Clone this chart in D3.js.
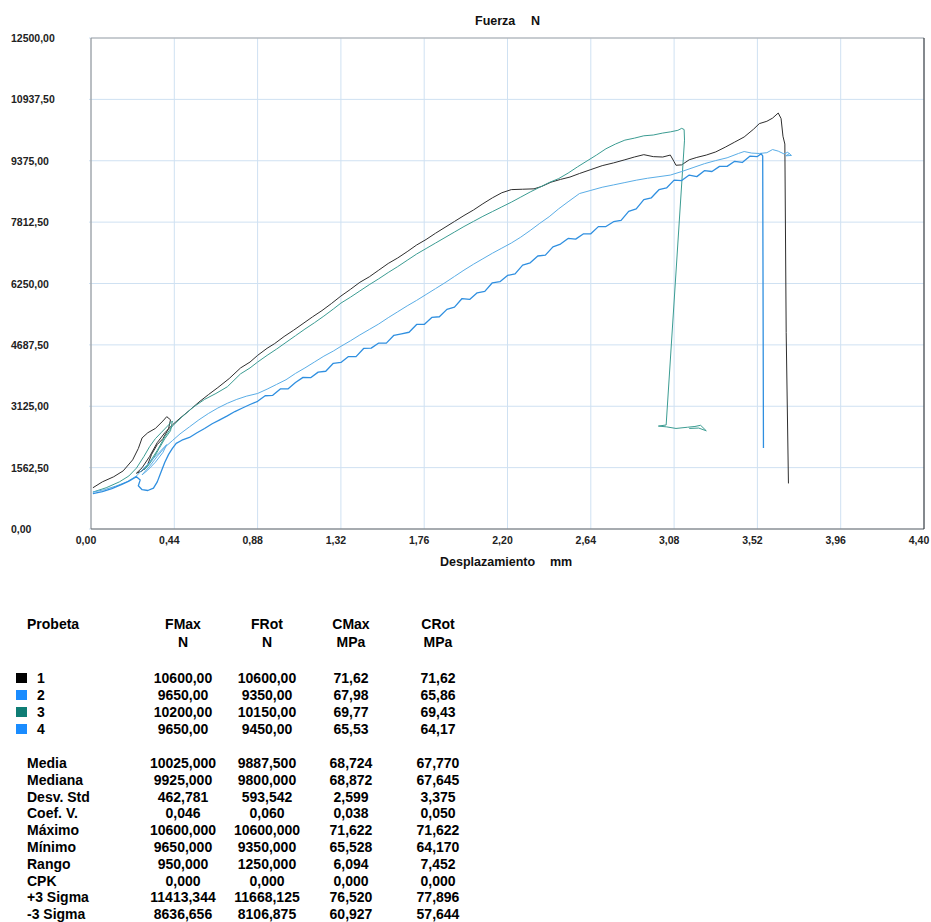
<!DOCTYPE html>
<html>
<head>
<meta charset="utf-8">
<script src="https://cdn.jsdelivr.net/npm/d3@7"></script>
<style>
  body { margin: 0; background: #fff; }
  svg { display: block; font-family: "Liberation Sans", Arial, sans-serif; font-weight: bold; }
</style>
</head>
<body>
<div id="chart"></div>
<script>
/* ============================================
   ENSAYO DE TRACCION - FUERZA vs DESPLAZAMIENTO
   ============================================ */

// Axis ticks
const xTicks = [0, 0.44, 0.88, 1.32, 1.76, 2.20, 2.64, 3.08, 3.52, 3.96, 4.40];
const yTicks = [0, 1562.5, 3125, 4687.5, 6250, 7812.5, 9375, 10937.5, 12500];

// Probeta 1 (black)
const probeta1 = [
  [0.01, 1050], [0.06, 1200], [0.12, 1330], [0.17, 1480], [0.22, 1760], [0.25, 2050], [0.27, 2320],
  [0.30, 2450], [0.34, 2560], [0.38, 2750], [0.40, 2860], [0.42, 2780], [0.41, 2560], [0.38, 2300],
  [0.35, 2150], [0.32, 1900], [0.30, 1650], [0.27, 1480], [0.24, 1420], [0.27, 1560], [0.31, 1850],
  [0.35, 2200], [0.39, 2450], [0.43, 2650], [0.47, 2820], [0.52, 3020], [0.57, 3230], [0.62, 3420],
  [0.67, 3600], [0.73, 3830], [0.79, 4100], [0.84, 4250], [0.88, 4420], [0.93, 4600], [0.97, 4720],
  [1.02, 4900], [1.07, 5060], [1.12, 5230], [1.17, 5400], [1.22, 5560], [1.27, 5740], [1.32, 5930],
  [1.37, 6100], [1.42, 6280], [1.47, 6420], [1.52, 6590], [1.57, 6760], [1.62, 6900], [1.67, 7060],
  [1.72, 7230], [1.77, 7370], [1.82, 7530], [1.87, 7680], [1.92, 7830], [1.97, 7980], [2.02, 8120],
  [2.07, 8280], [2.12, 8430], [2.17, 8560], [2.22, 8640], [2.28, 8650], [2.34, 8660], [2.38, 8720],
  [2.43, 8830], [2.48, 8900], [2.53, 8960], [2.58, 9050], [2.64, 9150], [2.70, 9250], [2.76, 9320],
  [2.82, 9400], [2.87, 9470], [2.92, 9530], [2.97, 9480], [3.02, 9470], [3.06, 9520], [3.08, 9350],
  [3.09, 9260], [3.12, 9270], [3.16, 9400], [3.20, 9460], [3.25, 9520], [3.30, 9600], [3.35, 9720],
  [3.40, 9850], [3.45, 9980], [3.50, 10180], [3.53, 10320], [3.57, 10380], [3.60, 10460], [3.63, 10590],
  [3.645, 10450], [3.655, 10000], [3.665, 9800], [3.672, 5000], [3.684, 1160]
];

// Probeta 2 (light blue)
const probeta2 = [
  [0.01, 940], [0.07, 1000], [0.13, 1090], [0.19, 1200], [0.24, 1350], [0.28, 1550], [0.32, 1750],
  [0.36, 1950], [0.40, 2150], [0.38, 1950], [0.34, 1700], [0.30, 1500], [0.27, 1380], [0.31, 1600],
  [0.35, 1850], [0.39, 2080], [0.43, 2250], [0.47, 2420], [0.52, 2600], [0.57, 2780], [0.62, 2940],
  [0.67, 3080], [0.72, 3200], [0.77, 3300], [0.82, 3380], [0.88, 3450], [0.93, 3560], [0.98, 3680],
  [1.03, 3800], [1.08, 3960], [1.13, 4100], [1.18, 4250], [1.23, 4400], [1.28, 4530], [1.32, 4650],
  [1.37, 4790], [1.42, 4940], [1.47, 5080], [1.52, 5220], [1.57, 5380], [1.62, 5530], [1.67, 5680],
  [1.72, 5820], [1.77, 5970], [1.82, 6120], [1.87, 6270], [1.92, 6430], [1.97, 6590], [2.02, 6740],
  [2.07, 6880], [2.12, 7020], [2.17, 7150], [2.22, 7280], [2.27, 7430], [2.32, 7600], [2.37, 7780],
  [2.42, 7950], [2.47, 8150], [2.52, 8330], [2.58, 8540], [2.64, 8620], [2.70, 8700], [2.76, 8760],
  [2.82, 8820], [2.88, 8880], [2.94, 8930], [3.00, 8970], [3.06, 9010], [3.12, 9100], [3.18, 9200],
  [3.24, 9300], [3.30, 9380], [3.36, 9450], [3.42, 9560], [3.45, 9610], [3.49, 9570], [3.53, 9560],
  [3.57, 9580], [3.60, 9660], [3.63, 9620], [3.66, 9550], [3.68, 9590], [3.70, 9510], [3.67, 9500],
  [3.69, 9560]
];

// Probeta 3 (teal)
const probeta3 = [
  [0.01, 940], [0.08, 1050], [0.15, 1200], [0.20, 1350], [0.24, 1550], [0.28, 1850], [0.31, 2100],
  [0.34, 2300], [0.37, 2450], [0.40, 2600], [0.43, 2750], [0.42, 2500], [0.39, 2300], [0.36, 2050],
  [0.33, 1800], [0.30, 1600], [0.28, 1500], [0.31, 1700], [0.35, 2000], [0.39, 2350], [0.43, 2620],
  [0.48, 2850], [0.54, 3100], [0.60, 3300], [0.66, 3450], [0.72, 3620], [0.79, 3950], [0.84, 4100],
  [0.88, 4250], [0.93, 4420], [0.98, 4580], [1.03, 4750], [1.08, 4920], [1.13, 5090], [1.18, 5250],
  [1.23, 5420], [1.28, 5600], [1.32, 5750], [1.37, 5900], [1.42, 6060], [1.47, 6220], [1.52, 6370],
  [1.57, 6530], [1.62, 6680], [1.67, 6840], [1.72, 7000], [1.77, 7140], [1.82, 7280], [1.87, 7420],
  [1.92, 7560], [1.97, 7700], [2.02, 7830], [2.07, 7960], [2.12, 8080], [2.17, 8200], [2.22, 8320],
  [2.27, 8450], [2.32, 8580], [2.37, 8700], [2.42, 8820], [2.47, 8920], [2.52, 9060], [2.57, 9220],
  [2.62, 9370], [2.67, 9520], [2.72, 9680], [2.77, 9800], [2.82, 9900], [2.87, 9950], [2.92, 10010],
  [2.97, 10030], [3.02, 10080], [3.06, 10110], [3.10, 10150], [3.12, 10200], [3.133, 10170],
  [3.135, 9900], [3.038, 2648], [2.997, 2620], [3.04, 2600], [3.09, 2560], [3.15, 2590], [3.19, 2610],
  [3.22, 2640], [3.25, 2500], [3.21, 2570], [3.16, 2560]
];

// Probeta 4 (blue, noisy)
const probeta4 = [
  [0.01, 900], [0.06, 950], [0.11, 1030], [0.16, 1130], [0.20, 1220], [0.24, 1330], [0.26, 1250],
  [0.25, 1100], [0.27, 1000], [0.30, 980], [0.33, 1040], [0.35, 1200], [0.37, 1450], [0.39, 1700],
  [0.41, 1900], [0.43, 2050], [0.45, 2180], [0.48, 2260], [0.52, 2330], [0.56, 2450], [0.60, 2560],
  [0.64, 2680], [0.68, 2780], [0.72, 2880], [0.76, 2990], [0.80, 3080], [0.84, 3170], [0.88, 3250],
  [0.92, 3392], [0.96, 3404], [1.00, 3565], [1.04, 3567], [1.08, 3729], [1.12, 3861], [1.16, 3853],
  [1.20, 3994], [1.24, 4016], [1.28, 4218], [1.32, 4240], [1.36, 4389], [1.40, 4388], [1.44, 4596],
  [1.48, 4605], [1.52, 4734], [1.56, 4733], [1.60, 4932], [1.64, 4970], [1.68, 5009], [1.72, 5208],
  [1.76, 5207], [1.80, 5385], [1.84, 5403], [1.88, 5591], [1.92, 5649], [1.96, 5867], [2.00, 5845],
  [2.04, 6013], [2.08, 6050], [2.12, 6268], [2.16, 6296], [2.20, 6454], [2.24, 6495], [2.28, 6717],
  [2.32, 6778], [2.36, 6950], [2.40, 6971], [2.44, 7183], [2.48, 7254], [2.52, 7397], [2.56, 7380],
  [2.60, 7512], [2.64, 7515], [2.68, 7698], [2.72, 7700], [2.76, 7823], [2.80, 7859], [2.84, 8085],
  [2.88, 8150], [2.92, 8386], [2.96, 8432], [3.00, 8638], [3.04, 8683], [3.08, 8881], [3.12, 8871],
  [3.16, 9011], [3.20, 8971], [3.24, 9121], [3.28, 9101], [3.32, 9231], [3.36, 9231], [3.40, 9361],
  [3.44, 9331], [3.48, 9491], [3.52, 9481], [3.54, 9552], [3.548, 9500], [3.552, 2062]
];

// Table data
const probetas = ['1', '2', '3', '4'];
const probetaColors = ['#000000', '#1a8cff', '#0f7d75', '#1a8cff'];
const fMax = [10600, 9650, 10200, 9650];
const fRot = [10600, 9350, 10150, 9450];
const cMax = [71.62, 67.98, 69.77, 65.53];
const cRot = [71.62, 65.86, 69.43, 64.17];

const statLabels = ['Media', 'Mediana', 'Desv. Std', 'Coef. V.', 'Máximo', 'Mínimo', 'Rango', 'CPK', '+3 Sigma', '-3 Sigma'];
const statFMax = [10025, 9925, 462.781, 0.046, 10600, 9650, 950, 0, 11413.344, 8636.656];
const statFRot = [9887.5, 9800, 593.542, 0.060, 10600, 9350, 1250, 0, 11668.125, 8106.875];
const statCMax = [68.724, 68.872, 2.599, 0.038, 71.622, 65.528, 6.094, 0, 76.520, 60.927];
const statCRot = [67.770, 67.645, 3.375, 0.050, 71.622, 64.170, 7.452, 0, 77.896, 57.644];

const seriesList = [
  { data: probeta1, color: '#2e2e2e', width: 1 },
  { data: probeta3, color: '#3b9c92', width: 1 },
  { data: probeta2, color: '#5aade6', width: 1 },
  { data: probeta4, color: '#2f8fe0', width: 1.3 }
];

const W = 931, H = 922;
const plot = { left: 91, right: 924, top: 38, bottom: 529 };

// comma decimal formatting
const fmt = p => v => d3.format('.' + p + 'f')(v).replace('.', ',');

const svg = d3.select('#chart').append('svg')
  .attr('width', W)
  .attr('height', H);

const x = d3.scaleLinear().domain([0, 4.4]).range([plot.left, plot.right]);
const y = d3.scaleLinear().domain([0, 12500]).range([plot.bottom, plot.top]);

// Grid
svg.append('g')
  .selectAll('line')
  .data(xTicks)
  .join('line')
  .attr('x1', d => x(d)).attr('x2', d => x(d))
  .attr('y1', plot.top).attr('y2', plot.bottom)
  .attr('stroke', '#cfe1f2');

svg.append('g')
  .selectAll('line')
  .data(yTicks)
  .join('line')
  .attr('x1', plot.left - 2).attr('x2', plot.right)
  .attr('y1', d => y(d)).attr('y2', d => y(d))
  .attr('stroke', '#cfe1f2');

// Frame
svg.append('line').attr('x1', plot.left).attr('x2', plot.right).attr('y1', plot.top).attr('y2', plot.top).attr('stroke', '#a8a8a8');
svg.append('line').attr('x1', plot.left).attr('x2', plot.left).attr('y1', plot.top).attr('y2', plot.bottom).attr('stroke', '#8c8c8c');
svg.append('line').attr('x1', plot.left).attr('x2', plot.right).attr('y1', plot.bottom).attr('y2', plot.bottom).attr('stroke', '#666');
svg.append('line').attr('x1', plot.right).attr('x2', plot.right).attr('y1', plot.top).attr('y2', plot.bottom).attr('stroke', '#222');

// Curves
svg.append('clipPath').attr('id', 'plot-clip')
  .append('rect')
  .attr('x', plot.left).attr('y', plot.top)
  .attr('width', plot.right - plot.left).attr('height', plot.bottom - plot.top);

const line = d3.line()
  .x(d => x(d[0]))
  .y(d => y(d[1]));

svg.append('g')
  .attr('clip-path', 'url(#plot-clip)')
  .selectAll('path')
  .data(seriesList)
  .join('path')
  .attr('fill', 'none')
  .attr('stroke', d => d.color)
  .attr('stroke-width', d => d.width)
  .attr('stroke-linejoin', 'round')
  .attr('d', d => line(d.data));

// Y labels (clipped on the right like the original)
svg.append('clipPath').attr('id', 'ylab-clip')
  .append('rect').attr('x', 0).attr('y', 0).attr('width', 55).attr('height', 560);

svg.append('g')
  .attr('clip-path', 'url(#ylab-clip)')
  .selectAll('text')
  .data(yTicks)
  .join('text')
  .attr('x', 11)
  .attr('y', d => y(d) + 4)
  .text(d => fmt(2)(d))
  .style('font-size', '10.5px')
  .style('fill', '#222');

// X labels
svg.append('g')
  .selectAll('text')
  .data(xTicks)
  .join('text')
  .attr('x', d => x(d) - 5)
  .attr('y', 544)
  .attr('text-anchor', 'middle')
  .text(d => fmt(2)(d))
  .style('font-size', '10.5px')
  .style('fill', '#222');

// Titles
const titleStyle = sel => sel.style('font-size', '12.5px').style('fill', '#111');
svg.append('text').attr('x', 475).attr('y', 25).text('Fuerza').call(titleStyle);
svg.append('text').attr('x', 531).attr('y', 25).text('N').call(titleStyle);
svg.append('text').attr('x', 440).attr('y', 566).text('Desplazamiento').call(titleStyle);
svg.append('text').attr('x', 550).attr('y', 566).text('mm').call(titleStyle);

// Results table
const table = svg.append('g').style('font-size', '14px').style('fill', '#000');
const colX = [183, 267, 351, 438];

table.append('text').attr('x', 27).attr('y', 629).text('Probeta');
[['FMax', 'N'], ['FRot', 'N'], ['CMax', 'MPa'], ['CRot', 'MPa']].forEach((h, i) => {
  table.append('text').attr('x', colX[i]).attr('y', 629).attr('text-anchor', 'middle').text(h[0]);
  table.append('text').attr('x', colX[i]).attr('y', 647).attr('text-anchor', 'middle').text(h[1]);
});

probetas.forEach((p, i) => {
  const by = 683 + i * 17;
  table.append('rect')
    .attr('x', 16).attr('y', by - 10)
    .attr('width', 11).attr('height', 10)
    .attr('fill', probetaColors[i]);
  table.append('text').attr('x', 37).attr('y', by).text(p);
  [fMax[i], fRot[i], cMax[i], cRot[i]].forEach((v, j) => {
    table.append('text').attr('x', colX[j]).attr('y', by).attr('text-anchor', 'middle').text(fmt(2)(v));
  });
});

statLabels.forEach((label, i) => {
  const by = 768 + i * 16.8;
  table.append('text').attr('x', 27).attr('y', by).text(label);
  [statFMax[i], statFRot[i], statCMax[i], statCRot[i]].forEach((v, j) => {
    table.append('text').attr('x', colX[j]).attr('y', by).attr('text-anchor', 'middle').text(fmt(3)(v));
  });
});
</script>
</body>
</html>
